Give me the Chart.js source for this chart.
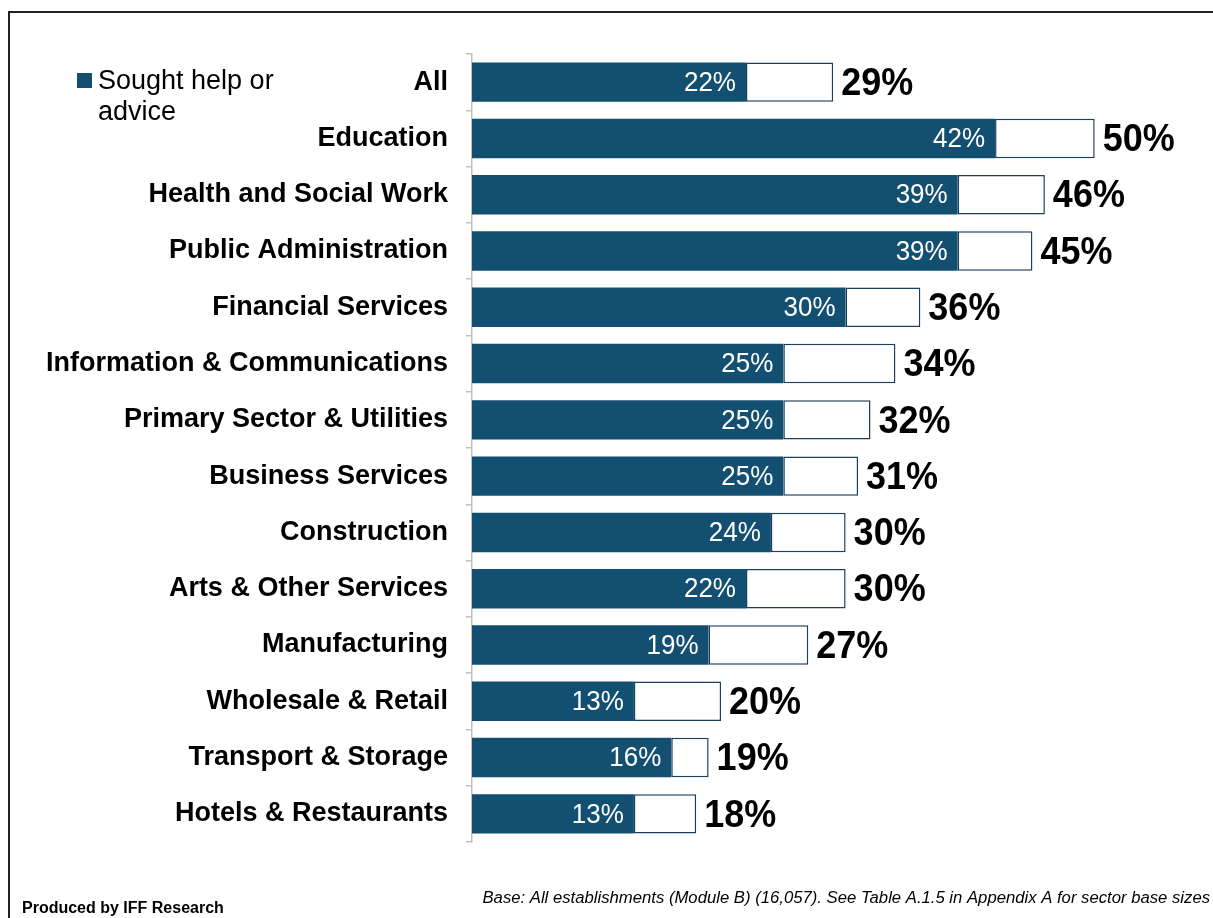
<!DOCTYPE html>
<html>
<head>
<meta charset="utf-8">
<script src="https://cdn.jsdelivr.net/npm/chart.js@4/dist/chart.umd.min.js"></script>
<style>
  html, body { margin: 0; padding: 0; background: #fff; }
  #wrap { width: 1213px; height: 918px; position: relative; }
</style>
</head>
<body>
<div id="wrap"><canvas id="c" width="1213" height="918"></canvas></div>
<script>
// Sectors, top to bottom
const sectors = [
  'All', 'Education', 'Health and Social Work', 'Public Administration',
  'Financial Services', 'Information & Communications', 'Primary Sector & Utilities',
  'Business Services', 'Construction', 'Arts & Other Services', 'Manufacturing',
  'Wholesale & Retail', 'Transport & Storage', 'Hotels & Restaurants'
];
// Share of establishments that sought help or advice (%)
const soughtHelp = [22, 42, 39, 39, 30, 25, 25, 25, 24, 22, 19, 13, 16, 13];
// Total share shown at the end of each bar (%)
const totals = [29, 50, 46, 45, 36, 34, 32, 31, 30, 30, 27, 20, 19, 18];

const legendLabel = ['Sought help or', 'advice'];
const footerLeft = 'Produced by IFF Research';
const footerRight = 'Base: All establishments (Module B) (16,057). See Table A.1.5 in Appendix A for sector base sizes';

const NAVY = '#124F71';
const FONT = '"Liberation Sans", Arial, sans-serif';

// Remaining part of each total beyond the "sought help" share
const remainder = totals.map((t, i) => t - soughtHelp[i]);

// Draws text slightly stretched vertically (narrow, tall lettering)
function tallText(ctx, text, x, y, sy) {
  ctx.save();
  ctx.translate(x, y);
  ctx.scale(1, sy);
  ctx.fillText(text, 0, 0);
  ctx.restore();
}

const decorations = {
  id: 'decorations',
  beforeDraw(chart) {
    const ctx = chart.ctx;
    ctx.save();
    ctx.fillStyle = '#fff';
    ctx.fillRect(0, 0, chart.width, chart.height);
    // outer frame
    ctx.strokeStyle = '#222';
    ctx.lineWidth = 2;
    ctx.beginPath();
    ctx.moveTo(9, chart.height);
    ctx.lineTo(9, 12);
    ctx.lineTo(chart.width, 12);
    ctx.stroke();
    ctx.restore();
  },
  afterDraw(chart) {
    const ctx = chart.ctx;
    ctx.save();
    // legend
    ctx.fillStyle = NAVY;
    ctx.fillRect(77, 73, 15, 15);
    ctx.fillStyle = '#000';
    ctx.font = '27px ' + FONT;
    ctx.textAlign = 'left';
    ctx.textBaseline = 'alphabetic';
    ctx.fillText(legendLabel[0], 98, 89);
    ctx.fillText(legendLabel[1], 98, 120);
    // footers
    ctx.font = 'bold 16px ' + FONT;
    ctx.fillText(footerLeft, 22, 913);
    ctx.font = 'italic 16.7px ' + FONT;
    ctx.textAlign = 'right';
    ctx.fillText(footerRight, 1210, 903);
    ctx.restore();
  },
  afterDatasetsDraw(chart) {
    const ctx = chart.ctx;
    const m0 = chart.getDatasetMeta(0).data;
    const m1 = chart.getDatasetMeta(1).data;
    ctx.save();
    ctx.textBaseline = 'middle';
    m0.forEach((bar, i) => {
      ctx.fillStyle = '#fff';
      ctx.font = '26px ' + FONT;
      ctx.textAlign = 'right';
      tallText(ctx, soughtHelp[i] + '%', bar.x - 10, bar.y + 1, 1.08);
      const end = m1[i];
      ctx.fillStyle = '#000';
      ctx.font = 'bold 36px ' + FONT;
      ctx.textAlign = 'left';
      tallText(ctx, totals[i] + '%', end.x + 8, end.y + 2, 1.08);
    });
    ctx.restore();
  }
};

new Chart(document.getElementById('c'), {
  type: 'bar',
  data: {
    labels: sectors,
    datasets: [
      {
        label: 'Sought help or advice',
        data: soughtHelp,
        backgroundColor: NAVY,
        borderWidth: 0,
        barPercentage: 0.7,
        categoryPercentage: 1
      },
      {
        label: 'Total',
        data: remainder,
        backgroundColor: '#fff',
        borderColor: '#1d3f5c',
        borderWidth: 1.5,
        borderSkipped: false,
        barPercentage: 0.7,
        categoryPercentage: 1
      }
    ]
  },
  options: {
    indexAxis: 'y',
    responsive: false,
    animation: false,
    layout: { padding: { top: 54, bottom: 76, left: 0, right: 0 } },
    plugins: {
      legend: { display: false },
      tooltip: { enabled: false }
    },
    scales: {
      x: {
        stacked: true,
        display: false,
        min: 0,
        max: 59.5
      },
      y: {
        stacked: true,
        afterFit(scale) { scale.width = 472; },
        border: { display: true, color: '#BFBFBF', width: 1.5 },
        grid: {
          offset: true,
          drawOnChartArea: false,
          drawTicks: true,
          tickLength: 6,
          color: '#BFBFBF',
          lineWidth: 1.5
        },
        ticks: {
          padding: 18,
          color: '#000',
          font: { family: FONT, size: 27, weight: 'bold' }
        }
      }
    }
  },
  plugins: [decorations]
});
</script>
</body>
</html>
